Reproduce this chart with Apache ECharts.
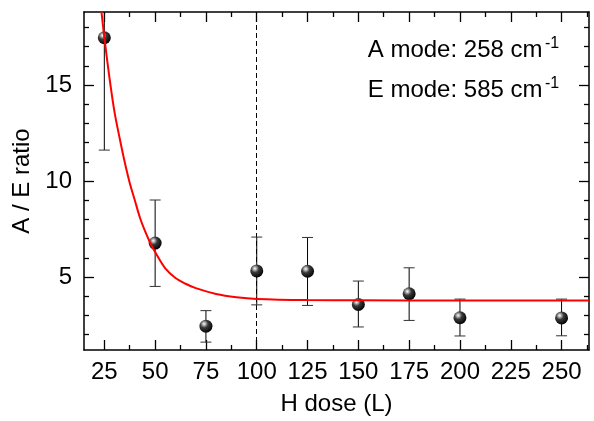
<!DOCTYPE html>
<html>
<head>
<meta charset="utf-8">
<script src="https://cdn.jsdelivr.net/npm/echarts@6/dist/echarts.min.js"></script>
<style>
html,body{margin:0;padding:0;background:#fff;}
#chart{width:594px;height:421px;}
</style>
</head>
<body>
<div id="chart"></div>
<script>
// ---- data ----
const doses   = [25, 50, 75, 100, 125, 150, 175, 200, 250];
const ratio   = [17.46, 6.77, 2.44, 5.32, 5.30, 3.57, 4.13, 2.88, 2.87];
const errLow  = [11.61, 4.51, 1.61, 3.55, 3.52, 2.40, 2.74, 1.93, 1.94];
const errHigh = [23.31, 9.01, 3.25, 7.08, 7.06, 4.79, 5.48, 3.85, 3.85];

// fitted decay curve
const fitX = [23.6, 25, 27.5, 30, 32.5, 35, 37.5, 40, 42.5, 45, 47.5, 50, 55, 60, 65, 70, 80, 90, 100, 125, 150, 200, 263.5];
const fitY = [18.8, 17.48, 15.4, 13.6, 12.25, 11.0, 9.9, 9.0, 8.1, 7.4, 6.8, 6.3, 5.45, 4.95, 4.65, 4.42, 4.12, 3.95, 3.86, 3.80, 3.79, 3.78, 3.78];

const xMajorTicks = [25, 50, 75, 100, 125, 150, 175, 200, 225, 250];
const xMinorTicks = [37.5, 62.5, 87.5, 112.5, 137.5, 162.5, 187.5, 212.5, 237.5, 262.5];
const yMajorTicks = [5, 10, 15];
const yMinorTicks = [2, 3, 4, 6, 7, 8, 9, 11, 12, 13, 14, 16, 17, 18];
const markerX = 100;

const xMin = 15, xMax = 263.5, yMin = 1.2, yMax = 18.8;
const FONT = '"Liberation Sans", Arial, Helvetica, sans-serif';
const FS = 24;

const chart = echarts.init(document.getElementById('chart'), null, {renderer: 'canvas'});

function xAx(pos, ticks, len, showLine, showLabel, extra) {
  return Object.assign({
    type: 'value', position: pos, min: xMin, max: xMax, gridIndex: 0,
    axisLine: {show: showLine, onZero: false, lineStyle: {color: '#000', width: 1.5}},
    axisTick: {show: true, inside: true, length: len, customValues: ticks, lineStyle: {color: '#000', width: 1.3}},
    axisLabel: {show: showLabel, customValues: ticks, color: '#000', fontSize: FS, fontFamily: FONT, margin: 10},
    splitLine: {show: false}
  }, extra || {});
}
function yAx(pos, ticks, len, showLine, showLabel, extra) {
  return Object.assign({
    type: 'value', position: pos, min: yMin, max: yMax, gridIndex: 0,
    axisLine: {show: showLine, onZero: false, lineStyle: {color: '#000', width: 1.5}},
    axisTick: {show: true, inside: true, length: len, customValues: ticks, lineStyle: {color: '#000', width: 1.3}},
    axisLabel: {show: showLabel, customValues: ticks, color: '#000', fontSize: FS, fontFamily: FONT, margin: 12},
    splitLine: {show: false}
  }, extra || {});
}

const sphere = {
  type: 'radial', x: 0.36, y: 0.32, r: 0.72,
  colorStops: [
    {offset: 0, color: '#ffffff'},
    {offset: 0.12, color: '#c8c8c8'},
    {offset: 0.42, color: '#3a3a3a'},
    {offset: 1, color: '#000000'}
  ]
};

const option = {
  animation: false,
  backgroundColor: '#fff',
  grid: {left: 84, right: 5, top: 12, bottom: 71, containLabel: false},
  xAxis: [
    xAx('bottom', xMajorTicks, 10, true, true, {
      name: 'H dose (L)', nameLocation: 'middle', nameGap: 42,
      nameTextStyle: {color: '#000', fontSize: FS, fontFamily: FONT}
    }),
    xAx('bottom', xMinorTicks, 5, false, false),
    xAx('top', xMajorTicks, 10, true, false),
    xAx('top', xMinorTicks, 5, false, false)
  ],
  yAxis: [
    yAx('left', yMajorTicks, 10, true, true, {
      name: 'A / E ratio', nameLocation: 'middle', nameGap: 39,
      nameTextStyle: {color: '#000', fontSize: FS, fontFamily: FONT}
    }),
    yAx('left', yMinorTicks, 5, false, false),
    yAx('right', yMajorTicks, 10, true, false),
    yAx('right', yMinorTicks, 5, false, false)
  ],
  series: [
    {
      type: 'custom', name: 'err', xAxisIndex: 0, yAxisIndex: 0, clip: true, z: 3,
      data: doses.map((d, i) => [d, errLow[i], errHigh[i]]),
      encode: {x: 0, y: [1, 2]},
      renderItem: function (params, api) {
        const x = api.value(0), lo = api.value(1), hi = api.value(2);
        const pLo = api.coord([x, lo]);
        const pHi = api.coord([x, hi]);
        const w = 5.5;
        return {
          type: 'group',
          children: [
            {type: 'line', shape: {x1: pLo[0], y1: pLo[1], x2: pHi[0], y2: pHi[1]}, style: {stroke: '#000', lineWidth: 1}},
            {type: 'line', shape: {x1: pLo[0] - w, y1: pLo[1], x2: pLo[0] + w, y2: pLo[1]}, style: {stroke: '#333', lineWidth: 1}},
            {type: 'line', shape: {x1: pHi[0] - w, y1: pHi[1], x2: pHi[0] + w, y2: pHi[1]}, style: {stroke: '#333', lineWidth: 1}}
          ]
        };
      }
    },
    {
      type: 'scatter', name: 'data', xAxisIndex: 0, yAxisIndex: 0, z: 4,
      symbol: 'circle', symbolSize: 13,
      itemStyle: {color: sphere, opacity: 1},
      data: doses.map((d, i) => [d, ratio[i]]),
      markLine: {
        silent: true, symbol: 'none', z: 1,
        label: {show: false},
        lineStyle: {color: '#000', width: 1, type: [5, 3]},
        data: [{xAxis: markerX}]
      }
    },
    {
      type: 'line', name: 'fit', xAxisIndex: 0, yAxisIndex: 0, z: 5,
      smooth: 0.3, showSymbol: false, symbol: 'none', clip: true,
      lineStyle: {color: '#ff0000', width: 2},
      data: fitX.map((x, i) => [x, fitY[i]])
    }
  ],
  graphic: [
    {type: 'text', x: 542.5, y: 50.5, z: 10,
      style: {text: 'A mode: 258 cm', font: FS + 'px ' + FONT, fill: '#000', align: 'right', verticalAlign: 'middle'}},
    {type: 'text', x: 545, y: 44, z: 10,
      style: {text: '-1', font: '16px ' + FONT, fill: '#000', align: 'left', verticalAlign: 'middle'}},
    {type: 'text', x: 542.5, y: 90.5, z: 10,
      style: {text: 'E mode: 585 cm', font: FS + 'px ' + FONT, fill: '#000', align: 'right', verticalAlign: 'middle'}},
    {type: 'text', x: 545, y: 84, z: 10,
      style: {text: '-1', font: '16px ' + FONT, fill: '#000', align: 'left', verticalAlign: 'middle'}}
  ]
};
chart.setOption(option);
</script>
</body>
</html>
